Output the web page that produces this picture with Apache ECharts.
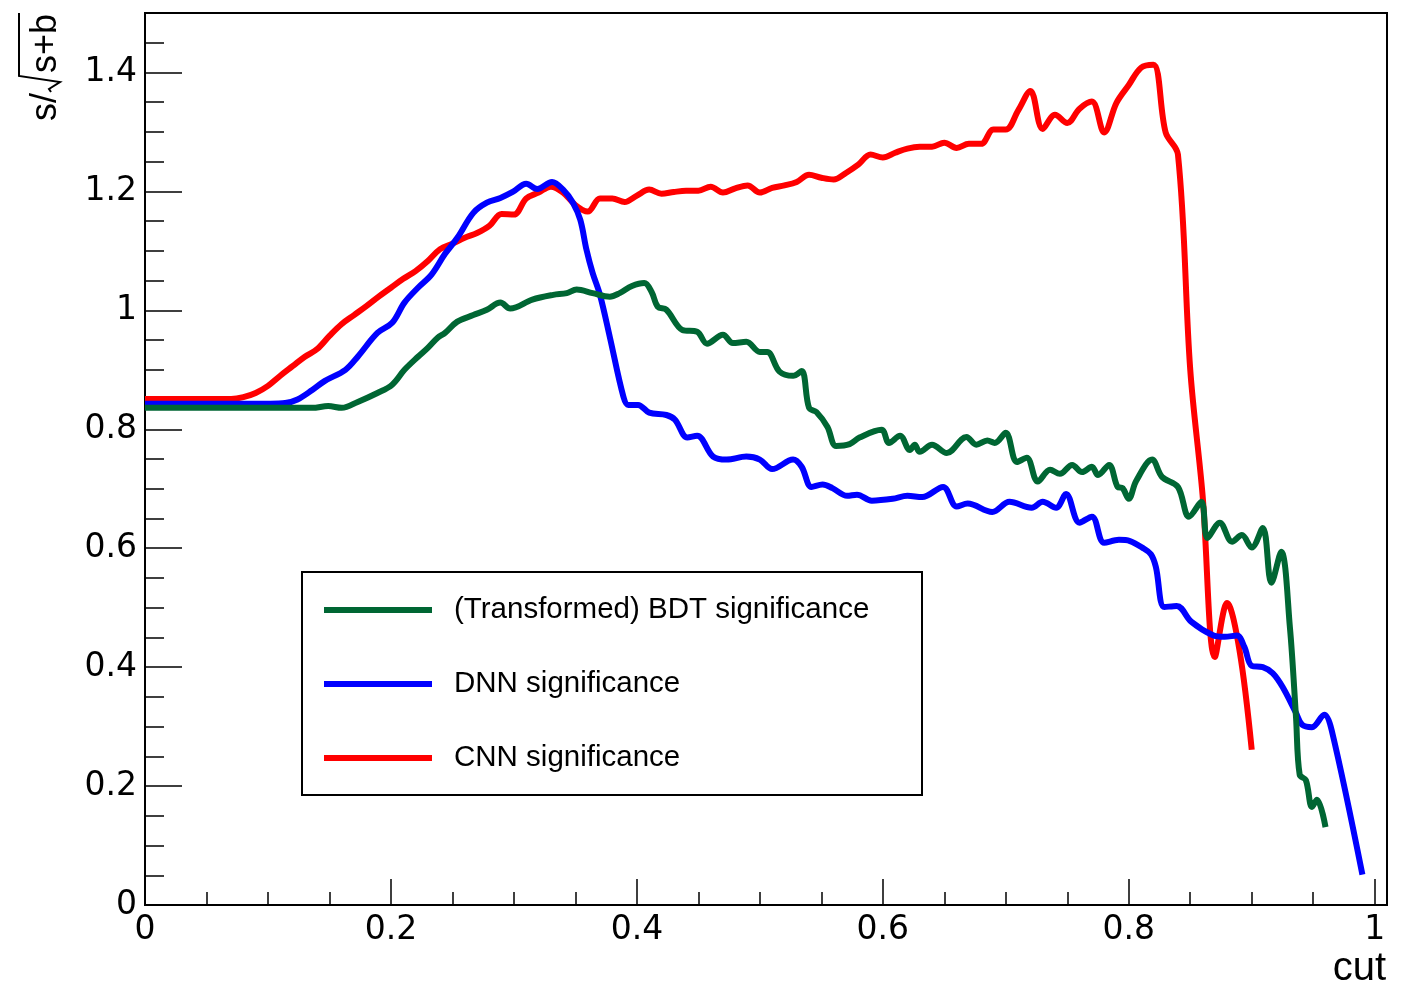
<!DOCTYPE html>
<html><head><meta charset="utf-8">
<script src="https://cdn.jsdelivr.net/npm/echarts@6/dist/echarts.min.js"></script>
<style>html,body{margin:0;padding:0;background:#fff}#chart{width:1411px;height:982px}</style>
</head><body><div id="chart"></div>
<script>
// ---- data ----
const seriesNames = ['(Transformed) BDT significance', 'DNN significance', 'CNN significance'];
const xTickLabels = ['0', '0.2', '0.4', '0.6', '0.8', '1'];
const yTickLabels = ['0', '0.2', '0.4', '0.6', '0.8', '1', '1.2', '1.4'];

const bdtCut = [0,0.136,0.149,0.160,0.173,0.189,0.201,0.211,0.222,0.230,0.238,0.244,0.254,0.267,0.278,0.289,0.297,0.315,0.332,0.343,0.351,0.364,0.378,0.386,0.396,0.406,0.412,0.417,0.424,0.437,0.449,0.457,0.470,0.478,0.489,0.500,0.506,0.516,0.527,0.534,0.540,0.546,0.555,0.562,0.573,0.581,0.599,0.605,0.614,0.622,0.626,0.630,0.640,0.652,0.668,0.676,0.685,0.691,0.700,0.709,0.717,0.726,0.736,0.744,0.754,0.762,0.770,0.775,0.784,0.791,0.795,0.800,0.806,0.819,0.827,0.840,0.849,0.859,0.864,0.874,0.884,0.892,0.900,0.909,0.916,0.924,0.931,0.936,0.939,0.944,0.949,0.953,0.960];
const bdtSig = [0.836,0.836,0.839,0.836,0.846,0.861,0.875,0.900,0.922,0.937,0.954,0.962,0.981,0.992,1.001,1.013,1.003,1.018,1.026,1.029,1.035,1.029,1.023,1.029,1.041,1.046,1.031,1.006,1.001,0.967,0.964,0.944,0.959,0.945,0.947,0.930,0.930,0.897,0.890,0.898,0.836,0.829,0.804,0.772,0.775,0.786,0.799,0.777,0.789,0.765,0.774,0.762,0.774,0.760,0.787,0.774,0.781,0.777,0.794,0.745,0.752,0.712,0.732,0.725,0.740,0.728,0.737,0.723,0.740,0.703,0.701,0.683,0.713,0.749,0.720,0.703,0.653,0.678,0.617,0.643,0.611,0.622,0.601,0.634,0.542,0.594,0.468,0.316,0.219,0.210,0.165,0.177,0.131];

const dnnCut = [0,0.102,0.114,0.124,0.136,0.146,0.163,0.173,0.189,0.201,0.211,0.222,0.233,0.244,0.254,0.267,0.278,0.289,0.299,0.310,0.319,0.331,0.340,0.348,0.354,0.359,0.364,0.370,0.378,0.389,0.393,0.401,0.410,0.424,0.431,0.441,0.449,0.462,0.473,0.489,0.500,0.510,0.527,0.534,0.542,0.551,0.559,0.571,0.579,0.591,0.608,0.620,0.632,0.649,0.660,0.669,0.689,0.703,0.721,0.730,0.741,0.749,0.760,0.770,0.780,0.792,0.801,0.811,0.818,0.822,0.829,0.839,0.851,0.868,0.878,0.888,0.894,0.900,0.909,0.917,0.925,0.936,0.941,0.949,0.959,0.965,0.990];
const dnnSig = [0.843,0.843,0.844,0.850,0.866,0.881,0.900,0.922,0.962,0.979,1.013,1.038,1.060,1.095,1.122,1.164,1.181,1.189,1.199,1.213,1.204,1.216,1.203,1.181,1.152,1.102,1.063,1.026,0.955,0.855,0.841,0.841,0.828,0.824,0.816,0.786,0.789,0.754,0.749,0.754,0.749,0.733,0.749,0.737,0.703,0.707,0.701,0.688,0.690,0.680,0.683,0.688,0.686,0.703,0.670,0.675,0.661,0.678,0.668,0.678,0.668,0.691,0.643,0.653,0.609,0.614,0.612,0.601,0.590,0.569,0.501,0.503,0.476,0.454,0.451,0.453,0.434,0.402,0.400,0.390,0.367,0.323,0.303,0.299,0.320,0.294,0.051];

// CNN sampled every 0.01 in cut, from 0 to 0.90
const cnnCut = [0,0.01,0.02,0.03,0.04,0.05,0.06,0.07,0.08,0.09,0.10,0.11,0.12,0.13,0.14,0.15,0.16,0.17,0.18,0.19,0.20,0.21,0.22,0.23,0.24,0.25,0.26,0.27,0.28,0.29,0.30,0.31,0.32,0.33,0.34,0.35,0.36,0.37,0.38,0.39,0.40,0.41,0.42,0.43,0.44,0.45,0.46,0.47,0.48,0.49,0.50,0.51,0.52,0.53,0.54,0.55,0.56,0.57,0.58,0.59,0.60,0.61,0.62,0.63,0.64,0.65,0.66,0.67,0.68,0.69,0.70,0.71,0.72,0.73,0.74,0.75,0.76,0.77,0.78,0.79,0.80,0.81,0.82,0.83,0.84,0.85,0.86,0.87,0.88,0.89,0.90];
const cnnSig = [0.851,0.851,0.851,0.851,0.851,0.851,0.851,0.851,0.854,0.861,0.873,0.890,0.906,0.922,0.935,0.957,0.977,0.992,1.007,1.023,1.038,1.053,1.066,1.083,1.103,1.112,1.122,1.130,1.142,1.162,1.161,1.188,1.198,1.208,1.198,1.177,1.166,1.188,1.188,1.182,1.193,1.203,1.196,1.199,1.201,1.201,1.208,1.198,1.205,1.210,1.198,1.206,1.210,1.216,1.228,1.223,1.220,1.231,1.245,1.262,1.257,1.265,1.272,1.275,1.275,1.282,1.273,1.280,1.280,1.304,1.304,1.336,1.369,1.305,1.329,1.315,1.339,1.351,1.299,1.349,1.379,1.408,1.413,1.299,1.262,0.900,0.690,0.417,0.508,0.429,0.261];

// ---- chart ----
const colors = {bdt: '#006633', dnn: '#0000ff', cnn: '#ff0000'};
const LBL_FONT = 'DejaVu Sans';
const TXT_FONT = 'Liberation Sans';
function pairs(xs, ys) { return xs.map((x, i) => [x, ys[i]]); }
function fmt(v) { return String(+v.toFixed(1)); }

const tickStyle = {color: '#000', width: 1.5};
const commonAxis = {type: 'value', splitLine: {show: false}};

const chart = echarts.init(document.getElementById('chart'), null, {renderer: 'canvas'});
const option = {
  animation: false,
  backgroundColor: '#ffffff',
  grid: {left: 145, top: 13, right: 24, bottom: 77, show: true, borderColor: '#000', borderWidth: 2, backgroundColor: 'rgba(0,0,0,0)'},
  xAxis: [
    Object.assign({}, commonAxis, {min: 0, max: 1.01, interval: 0.05, position: 'bottom',
      axisLine: {show: true, lineStyle: {color: '#000', width: 2}},
      axisTick: {show: true, inside: true, length: 13, lineStyle: tickStyle},
      axisLabel: {show: false}}),
    Object.assign({}, commonAxis, {min: 0, max: 1.01, interval: 0.2, position: 'bottom',
      axisLine: {show: false},
      axisTick: {show: true, inside: true, length: 26, lineStyle: tickStyle},
      axisLabel: {show: true, showMaxLabel: false, margin: 9, color: '#000', fontFamily: LBL_FONT, fontSize: 33,
        formatter: v => xTickLabels.indexOf(fmt(v)) >= 0 ? fmt(v) : ''}})
  ],
  yAxis: [
    Object.assign({}, commonAxis, {min: 0, max: 1.5, interval: 0.05, position: 'left',
      axisLine: {show: true, lineStyle: {color: '#000', width: 2}},
      axisTick: {show: true, inside: true, length: 19, lineStyle: tickStyle},
      axisLabel: {show: false}}),
    Object.assign({}, commonAxis, {min: 0, max: 1.5, interval: 0.2, position: 'left',
      axisLine: {show: false},
      axisTick: {show: true, inside: true, length: 37, lineStyle: tickStyle},
      axisLabel: {show: true, showMaxLabel: false, margin: 8, color: '#000', fontFamily: LBL_FONT, fontSize: 33,
        formatter: v => yTickLabels.indexOf(fmt(v)) >= 0 ? fmt(v) : ''}})
  ],
  legend: {
    show: true, orient: 'vertical', left: 319, top: 590, selectedMode: false,
    data: seriesNames, icon: 'rect', itemWidth: 108, itemHeight: 6, itemGap: 44,
    textStyle: {color: '#000', fontFamily: TXT_FONT, fontSize: 29.5, lineHeight: 30, padding: [0, 0, 0, 17]}
  },
  series: [
    {name: seriesNames[2], type: 'line', data: pairs(cnnCut, cnnSig), color: colors.cnn},
    {name: seriesNames[1], type: 'line', data: pairs(dnnCut, dnnSig), color: colors.dnn},
    {name: seriesNames[0], type: 'line', data: pairs(bdtCut, bdtSig), color: colors.bdt}
  ].map(s => Object.assign(s, {showSymbol: false, symbol: 'none', smooth: 0.35, lineStyle: {width: 6, color: s.color}, itemStyle: {color: s.color}, clip: true})),
  graphic: [
    {type: 'rect', left: 301, top: 571, shape: {width: 620, height: 223}, style: {fill: 'rgba(0,0,0,0)', stroke: '#000', lineWidth: 2}, z: 1},
    {type: 'text', x: 1386, y: 969, style: {text: 'cut', font: '40px "Liberation Sans"', fill: '#000', align: 'right', verticalAlign: 'middle', textAlign: 'right', textVerticalAlign: 'middle'}},
    {type: 'group', x: 46, y: 14, rotation: Math.PI / 2, children: [
      {type: 'text', x: 0, y: 0, style: {text: 's+b', font: '36px "Liberation Sans"', fill: '#000', align: 'right', verticalAlign: 'middle', textAlign: 'right', textVerticalAlign: 'middle'}},
      {type: 'polyline', shape: {points: [[1, -27], [-62, -27], [-68, 14], [-75, 3], [-78, 5]]}, style: {stroke: '#000', lineWidth: 2, fill: null}},
      {type: 'text', x: -79, y: 0, style: {text: 's/', font: '36px "Liberation Sans"', fill: '#000', align: 'right', verticalAlign: 'middle', textAlign: 'right', textVerticalAlign: 'middle'}}
    ]}
  ]
};
chart.setOption(option);
</script>
</body></html>
